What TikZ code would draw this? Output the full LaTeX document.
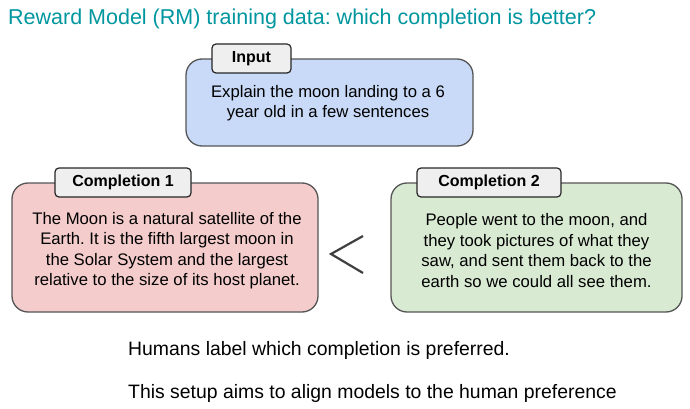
\documentclass[tikz,border=0pt]{standalone}
\usepackage{fontspec}
\setmainfont{Liberation Sans}
\definecolor{titlecol}{RGB}{0,150,160}
\definecolor{bordercol}{RGB}{85,85,85}
\definecolor{blueF}{RGB}{201,218,248}
\definecolor{redF}{RGB}{244,204,204}
\definecolor{greenF}{RGB}{217,234,211}
\definecolor{tabF}{RGB}{239,239,239}
\definecolor{ltcol}{RGB}{64,64,64}
\tikzset{
  box/.style={draw=bordercol, line width=1.3pt, rounded corners=16pt, inner sep=0pt},
  bodytext/.style={align=center, font=\fontsize{16.7}{20.5}\selectfont, text=black, inner sep=0pt},
  tabbox/.style={draw=black!85, line width=1.2pt, rounded corners=4pt, fill=tabF,
    font=\fontsize{16}{19}\selectfont\bfseries, inner sep=0pt, minimum height=29pt},
  plain/.style={font=\fontsize{19.4}{22}\selectfont, anchor=west, inner sep=0pt},
}
\begin{document}
\frenchspacing
\begin{tikzpicture}[x=1pt,y=-1pt]
\path[use as bounding box, fill=white] (0,0) rectangle (690,409);
\node[font=\fontsize{21.5}{25}\selectfont, text=titlecol, anchor=west, inner sep=0pt] (title) at (8,19) {Reward Model (RM) training data: which completion is better?};

\node[box, fill=blueF, minimum width=287pt, minimum height=87pt] (inp) at (329.5,102.5) {};
\node[bodytext] (inpx) at (328,103) {Explain the moon landing to a 6\\year old in a few sentences};
\node[tabbox, minimum width=79pt] (inpt) at (251.5,58.5) {Input};

\node[box, fill=redF, minimum width=306pt, minimum height=129pt] (c1) at (165,247.5) {};
\node[bodytext] (c1x) at (167,250.5) {The Moon is a natural satellite of the\\Earth. It is the fifth largest moon in\\the Solar System and the largest\\relative to the size of its host planet.};
\node[tabbox, minimum width=136pt] (c1t) at (123,182.5) {Completion 1};

\node[box, fill=greenF, minimum width=291pt, minimum height=129pt] (c2) at (536.5,247.5) {};
\node[bodytext] (c2x) at (536.5,250.5) {People went to the moon, and\\they took pictures of what they\\saw, and sent them back to the\\earth so we could all see them.};
\node[tabbox, minimum width=144pt] (c2t) at (489,182.5) {Completion 2};

\coordinate (lt1) at (363,236);
\coordinate (lt2) at (331,254);
\coordinate (lt3) at (363,273);
\draw[ltcol, line width=2.2pt] (lt1) -- (lt2) -- (lt3);

\node[plain] (h1) at (128,350) {Humans label which completion is preferred.};
\node[plain] (h2) at (128,393) {This setup aims to align models to the human preference};
\end{tikzpicture}
\end{document}
